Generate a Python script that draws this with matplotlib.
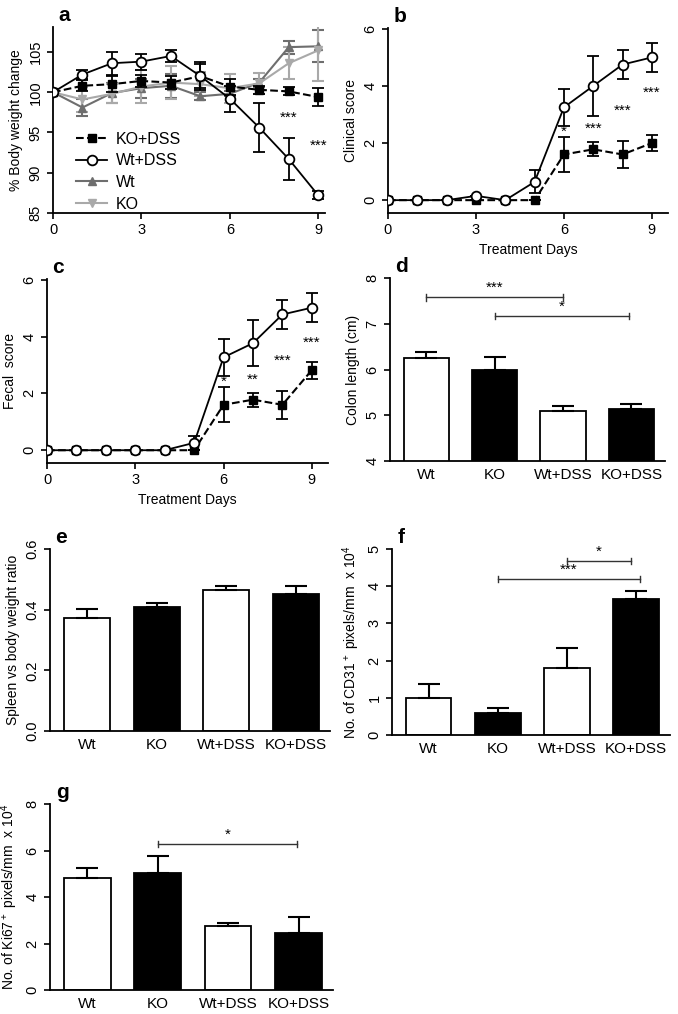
import numpy as np
import matplotlib.pyplot as plt

plt.rcParams['font.family'] = ['Liberation Sans', 'DejaVu Sans']
plt.rcParams['mathtext.fontset'] = 'custom'
plt.rcParams['mathtext.rm'] = 'Liberation Sans'

# ---- data ----
days = [0, 1, 2, 3, 4, 5, 6, 7, 8, 9]

# a: % body weight change
bw_ko_dss = [100, 100.8, 101.0, 101.4, 101.2, 102.0, 100.7, 100.3, 100.1, 99.4]
bw_ko_dss_err = [0, 0.7, 1.0, 0.8, 0.8, 1.5, 1.0, 0.5, 0.5, 1.1]
bw_wt_dss = [100, 102.2, 103.6, 103.8, 104.5, 102.0, 99.2, 95.6, 91.7, 87.2]
bw_wt_dss_err = [0, 0.6, 1.4, 1.0, 0.8, 1.7, 1.6, 3.0, 2.6, 0.5]
bw_wt = [100, 98.1, 99.9, 100.5, 100.8, 99.5, 99.8, 101.2, 105.6, 105.7]
bw_wt_err = [0, 1.0, 1.2, 1.2, 1.5, 0.5, 0.3, 0.5, 0.8, 2.0]
bw_ko = [100, 99.1, 99.8, 100.7, 101.2, 101.0, 100.5, 101.1, 103.6, 105.2]
bw_ko_err = [0, 1.5, 1.2, 2.0, 2.0, 1.5, 1.8, 1.3, 2.0, 3.8]

# b: clinical score
cs_wt_dss = [0, 0, 0, 0.15, 0, 0.64, 3.25, 4.0, 4.75, 5.0]
cs_wt_dss_err = [0, 0, 0, 0, 0, 0.4, 0.65, 1.05, 0.5, 0.52]
cs_ko_dss = [0, 0, 0, 0, 0, 0, 1.6, 1.78, 1.6, 2.0]
cs_ko_dss_err = [0, 0, 0, 0, 0, 0, 0.62, 0.25, 0.48, 0.27]

# c: fecal score
fs_wt_dss = [0, 0, 0, 0, 0, 0.26, 3.27, 3.77, 4.78, 5.02]
fs_wt_dss_err = [0, 0, 0, 0, 0, 0.25, 0.65, 0.8, 0.52, 0.52]
fs_ko_dss = [0, 0, 0, 0, 0, 0, 1.6, 1.78, 1.6, 2.82]
fs_ko_dss_err = [0, 0, 0, 0, 0, 0, 0.62, 0.25, 0.5, 0.3]

groups = ['Wt', 'KO', 'Wt+DSS', 'KO+DSS']
colon_len = [6.25, 6.0, 5.1, 5.13]
colon_len_err = [0.14, 0.28, 0.1, 0.11]
spleen_ratio = [0.374, 0.41, 0.465, 0.452]
spleen_ratio_err = [0.027, 0.011, 0.014, 0.027]
cd31 = [0.99, 0.58, 1.81, 3.66]
cd31_err = [0.38, 0.14, 0.52, 0.22]
ki67 = [4.8, 5.05, 2.75, 2.46]
ki67_err = [0.45, 0.71, 0.13, 0.68]

W, H = 678, 1014
fig = plt.figure(figsize=(W / 100, H / 100), dpi=100)


def add_ax(l, r, t, b):
    return fig.add_axes([l / W, 1 - b / H, (r - l) / W, (b - t) / H])


def style(ax):
    for s in ['top', 'right']:
        ax.spines[s].set_visible(False)
    for s in ['left', 'bottom']:
        ax.spines[s].set_linewidth(1.3)
    ax.tick_params(direction='out', length=4, width=1.2, labelsize=10.5)
    for lab in ax.get_yticklabels():
        lab.set_rotation(90)
        lab.set_va('center')


def letter(ax, s):
    ax.text(0.02, 1.01, s, transform=ax.transAxes, fontsize=15,
            fontweight='bold', va='bottom', ha='left')


def stars(ax, x, y, s):
    ax.text(x, y, s, ha='center', va='center', fontsize=11)


# ---- a ----
ax = add_ax(53, 325, 27, 213)
e_wt = ax.errorbar(days, bw_wt, yerr=bw_wt_err, color='#6e6e6e', marker='^', ms=6,
                   lw=1.5, capsize=4, elinewidth=1.5, capthick=1.5, zorder=2)
e_ko = ax.errorbar(days, bw_ko, yerr=bw_ko_err, color='#a9a9a9', marker='v', ms=6,
                   lw=1.5, capsize=4, elinewidth=1.5, capthick=1.5, zorder=2)
e_kd = ax.errorbar(days, bw_ko_dss, yerr=bw_ko_dss_err, color='black', marker='s',
                   ms=6, lw=1.5, ls='--', capsize=4, elinewidth=1.3, capthick=1.3,
                   zorder=3)
e_wd = ax.errorbar(days, bw_wt_dss, yerr=bw_wt_dss_err, color='black', marker='o',
                   ms=7, mfc='white', mew=1.3, lw=1.3, capsize=4, elinewidth=1.3,
                   capthick=1.3, zorder=4)
ax.set_xlim(0, 9.23)
ax.set_ylim(85, 108.1)
ax.set_xticks([0, 3, 6, 9])
ax.set_yticks([85, 90, 95, 100, 105])
ax.set_ylabel('% Body weight change', fontsize=10)
stars(ax, 8, 96.8, '***')
stars(ax, 9, 93.4, '***')
ax.legend([e_kd[0], e_wd[0], e_wt[0], e_ko[0]], ['KO+DSS', 'Wt+DSS', 'Wt', 'KO'],
          loc='lower left', bbox_to_anchor=(0.03, -0.07), frameon=False,
          fontsize=11.5, handlelength=2.0, handletextpad=0.5, labelspacing=0.42)
style(ax)
letter(ax, 'a')


def score_panel(ax, wt, wt_err, ko, ko_err, ylabel, st):
    ax.errorbar(days, ko, yerr=ko_err, color='black', marker='s', ms=6,
                lw=1.5, ls='--', capsize=4, elinewidth=1.3, capthick=1.3, zorder=3)
    ax.errorbar(days, wt, yerr=wt_err, color='black', marker='o', ms=7,
                mfc='white', mew=1.3, lw=1.3, capsize=4, elinewidth=1.3,
                capthick=1.3, zorder=4)
    ax.set_xlim(0, 9.55)
    ax.set_ylim(-0.45, 6.03)
    ax.set_xticks([0, 3, 6, 9])
    ax.set_yticks([0, 2, 4, 6])
    ax.set_ylabel(ylabel, fontsize=10)
    ax.set_xlabel('Treatment Days', fontsize=10)
    for x, y, s in st:
        stars(ax, x, y, s)
    style(ax)


# ---- b ----
ax = add_ax(388, 668, 28, 213)
score_panel(ax, cs_wt_dss, cs_wt_dss_err, cs_ko_dss, cs_ko_dss_err, 'Clinical score',
            [(6, 2.38, '*'), (7, 2.5, '***'), (8, 3.13, '***'), (9, 3.77, '***')])
letter(ax, 'b')

# ---- c ----
ax = add_ax(47, 328, 279, 463)
score_panel(ax, fs_wt_dss, fs_wt_dss_err, fs_ko_dss, fs_ko_dss_err, 'Fecal  score',
            [(6, 2.4, '*'), (7, 2.48, '**'), (8, 3.16, '***'), (9, 3.78, '***')])
letter(ax, 'c')


def bar_panel(ax, vals, errs, ylim, yticks, ylabel, sig):
    x = np.arange(len(groups))
    colors = ['white', 'black', 'white', 'black']
    ax.bar(x, vals, width=0.66, color=colors, edgecolor='black', linewidth=1.3,
           zorder=2)
    ax.errorbar(x, vals, yerr=[np.zeros(len(errs)), errs], fmt='none',
                ecolor='black', elinewidth=1.5, capsize=8, capthick=1.5, zorder=3)
    ax.set_xticks(x)
    ax.set_xticklabels(groups)
    ax.set_xlim(-0.53, 3.49)
    ax.set_ylim(*ylim)
    ax.set_yticks(yticks)
    ax.set_ylabel(ylabel, fontsize=10)
    style(ax)
    ax.tick_params(axis='x', length=0, pad=5, labelsize=11)
    dy = (ylim[1] - ylim[0]) * 0.018
    for x0, x1, y, s in sig:
        ax.plot([x0, x1], [y, y], color='#333333', lw=1.0)
        ax.plot([x0, x0], [y - dy, y + dy], color='#333333', lw=1.0)
        ax.plot([x1, x1], [y - dy, y + dy], color='#333333', lw=1.0)
        ax.text((x0 + x1) / 2, y + dy * 0.6, s, ha='center', va='bottom',
                fontsize=11)


# ---- d ----
ax = add_ax(390, 665, 278, 461)
bar_panel(ax, colon_len, colon_len_err, (4, 8), [4, 5, 6, 7, 8],
          'Colon length (cm)', [(0, 2, 7.58, '***'), (1, 2.97, 7.17, '*')])
letter(ax, 'd')

# ---- e ----
ax = add_ax(50, 330, 549, 731)
bar_panel(ax, spleen_ratio, spleen_ratio_err, (0, 0.6), [0.0, 0.2, 0.4, 0.6],
          'Spleen vs body weight ratio', [])
ax.set_yticklabels(['0.0', '0.2', '0.4', '0.6'], rotation=90, va='center')
letter(ax, 'e')

# ---- f ----
ax = add_ax(392, 670, 549, 735)
bar_panel(ax, cd31, cd31_err, (0, 5), [0, 1, 2, 3, 4, 5],
          'No. of CD31$^+$ pixels/mm  x 10$^4$',
          [(2, 2.93, 4.68, '*'), (1, 3.05, 4.19, '***')])
letter(ax, 'f')

# ---- g ----
ax = add_ax(50, 333, 804, 990)
bar_panel(ax, ki67, ki67_err, (0, 8), [0, 2, 4, 6, 8],
          'No. of Ki67$^+$ pixels/mm  x 10$^4$', [(1, 2.98, 6.28, '*')])
letter(ax, 'g')

fig.savefig('out.png', dpi=100)
